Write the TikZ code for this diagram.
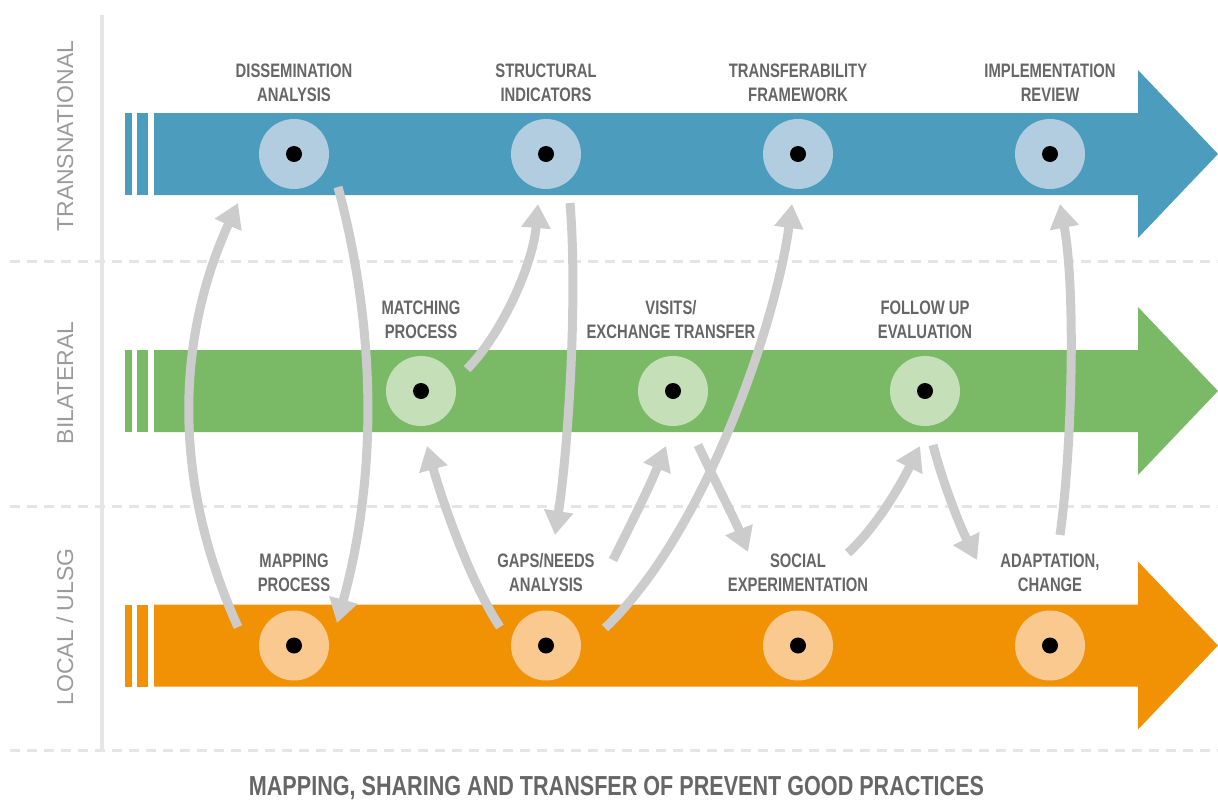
\documentclass[tikz,border=0pt]{standalone}
\usepackage{fontspec}
\setmainfont{Liberation Sans}
\newfontfamily\condf{Liberation Sans}[FakeStretch=0.76]
\newfontfamily\titlef{Liberation Sans}[FakeStretch=0.785]
\usetikzlibrary{arrows.meta}
\definecolor{bluearr}{HTML}{4C9DBD}
\definecolor{greenarr}{HTML}{7ABA67}
\definecolor{orangearr}{HTML}{F19104}
\definecolor{bluelt}{HTML}{B2CCE0}
\definecolor{greenlt}{HTML}{C5DFB9}
\definecolor{orangelt}{HTML}{F9C98F}
\definecolor{conngray}{HTML}{CCCCCC}
\definecolor{rulegray}{HTML}{E5E5E5}
\definecolor{labelgray}{HTML}{666666}
\definecolor{sidegray}{HTML}{9B9B9B}
\tikzset{
  stage/.style={circle, minimum size=70pt, inner sep=0pt, draw=none},
  bluestage/.style={stage, fill=bluelt},
  greenstage/.style={stage, fill=greenlt},
  orangestage/.style={stage, fill=orangelt},
  steplabel/.style={font=\condf\bfseries\fontsize{19.5}{24}\selectfont, text=labelgray, align=center, inner sep=0pt, anchor=base},
  sidelabel/.style={font=\fontsize{23}{27}\selectfont, text=sidegray, rotate=90, inner sep=0pt, anchor=base},
  conn/.style={draw=conngray, line width=9pt, -{Triangle[length=24pt,width=28pt]}},
  sepline/.style={draw=rulegray, line width=3pt, dash pattern=on 10pt off 7pt},
}
\begin{document}
\begin{tikzpicture}[x=1pt,y=-1pt]
\useasboundingbox (0,0) rectangle (1218,801);
% separators
\draw[sepline] (10,261) -- (1218,261);
\draw[sepline] (10,506) -- (1218,506);
\draw[sepline] (10,750) -- (1218,750);
\draw[draw=rulegray, line width=4pt] (101.5,15) -- (101.5,750);
% side labels
\node[sidelabel] (lt) at (73,136) {TRANSNATIONAL};
\node[sidelabel] (lb) at (73,383) {BILATERAL};
\node[sidelabel] (ll) at (73,627) {LOCAL / ULSG};
% big arrows
\foreach \c/\yc in {bluearr/154, greenarr/391, orangearr/645.5}{
  \fill[\c] (125,\yc-41) rectangle (132,\yc+41);
  \fill[\c] (137,\yc-41) rectangle (148,\yc+41);
  \fill[\c] (154,\yc-41) -- (1138,\yc-41) -- (1138,\yc-84) -- (1218,\yc) -- (1138,\yc+84) -- (1138,\yc+41) -- (154,\yc+41) -- cycle;
}
% stage circles
\node[bluestage] (b1) at (294,154) {};
\node[bluestage] (b2) at (546,154) {};
\node[bluestage] (b3) at (798,154) {};
\node[bluestage] (b4) at (1050,154) {};
\node[greenstage] (g1) at (421,391) {};
\node[greenstage] (g2) at (673,391) {};
\node[greenstage] (g3) at (925,391) {};
\node[orangestage] (o1) at (294,645.5) {};
\node[orangestage] (o2) at (546,645.5) {};
\node[orangestage] (o3) at (798,645.5) {};
\node[orangestage] (o4) at (1050,645.5) {};
\foreach \n in {b1,b2,b3,b4,g1,g2,g3,o1,o2,o3,o4}{
  \fill[black] (\n.center) circle[radius=8pt];
}
% labels (anchor = baseline of last line)
\node[steplabel] (tb1) at (294,101) {DISSEMINATION\\ANALYSIS};
\node[steplabel] (tb2) at (546,101) {STRUCTURAL\\INDICATORS};
\node[steplabel] (tb3) at (798,101) {TRANSFERABILITY\\FRAMEWORK};
\node[steplabel] (tb4) at (1050,101) {IMPLEMENTATION\\REVIEW};
\node[steplabel] (tg1) at (421,338) {MATCHING\\PROCESS};
\node[steplabel] (tg2) at (671,338) {VISITS/\\EXCHANGE TRANSFER};
\node[steplabel] (tg3) at (925,338) {FOLLOW UP\\EVALUATION};
\node[steplabel] (to1) at (294,591) {MAPPING\\PROCESS};
\node[steplabel] (to2) at (546,591) {GAPS/NEEDS\\ANALYSIS};
\node[steplabel] (to3) at (798,591) {SOCIAL\\EXPERIMENTATION};
\node[steplabel] (to4) at (1050,591) {ADAPTATION,\\CHANGE};
% connector end points
\coordinate (s1) at (238,627);  \coordinate (e1) at (238,203);
\coordinate (s2) at (338,187);  \coordinate (e2) at (337,623);
\coordinate (s3) at (467,369);  \coordinate (e3) at (538,204);
\coordinate (s4) at (570,203);  \coordinate (e4) at (555,535);
\coordinate (s5) at (500,627);  \coordinate (e5) at (427,446);
\coordinate (s6) at (613,560);  \coordinate (e6) at (666,446);
\coordinate (s7) at (605,628);  \coordinate (e7) at (792,204);
\coordinate (s8) at (698,445);  \coordinate (e8) at (748,552);
\coordinate (s9) at (848,553);  \coordinate (e9) at (920,446);
\coordinate (s10) at (933,445); \coordinate (e10) at (977,560);
\coordinate (s11) at (1060,535); \coordinate (e11) at (1060,204);
% connectors
\draw[conn] (s1) .. controls (174,486) and (174,344) .. (e1);
\draw[conn] (s2) .. controls (377,332) and (377,478) .. (e2);
\draw[conn] (s3) .. controls (502,334) and (533,264) .. (e3);
\draw[conn] (s4) .. controls (578,300) and (568,450) .. (e4);
\draw[conn] (s5) .. controls (472,585) and (443,504) .. (e5);
\draw[conn] (s6) .. controls (631,524) and (649,488) .. (e6);
\draw[conn] (s8) .. controls (712,475) and (735,520) .. (e8);
\draw[conn] (s7) .. controls (706,532) and (776,322) .. (e7);
\draw[conn] (s9) .. controls (877,526) and (900,486) .. (e9);
\draw[conn] (s10) .. controls (943,483) and (959,524) .. (e10);
\draw[conn] (s11) .. controls (1072,450) and (1076,290) .. (e11);
% title
\node[font=\titlef\bfseries\fontsize{27.5}{32}\selectfont, text=labelgray, inner sep=0pt, anchor=base] (title) at (616.5,795) {MAPPING, SHARING AND TRANSFER OF PREVENT GOOD PRACTICES};
\end{tikzpicture}
\end{document}
